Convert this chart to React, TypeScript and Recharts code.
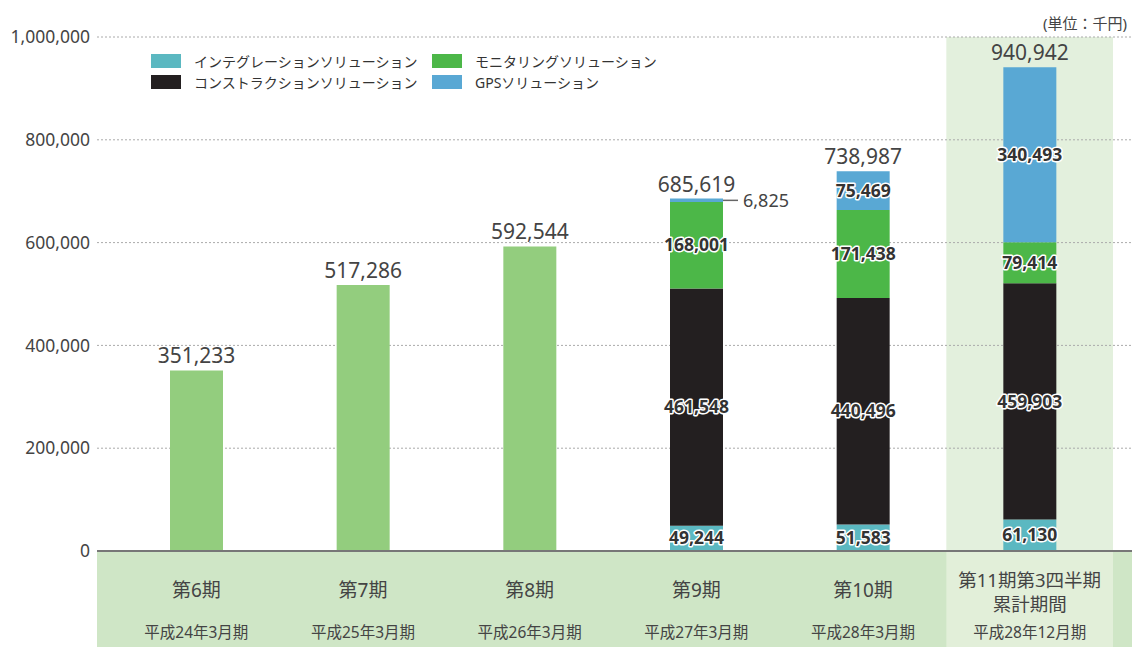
import React from 'react';
import { BarChart, Bar, XAxis, YAxis, CartesianGrid, ReferenceArea, LabelList, Legend } from 'recharts';

// 期ごとの売上高（単位：千円）
const periods = ['第6期', '第7期', '第8期', '第9期', '第10期', '第11期第3四半期\n累計期間'];
const fiscalLabels = ['平成24年3月期', '平成25年3月期', '平成26年3月期', '平成27年3月期', '平成28年3月期', '平成28年12月期'];
const totalOnly = [351233, 517286, 592544, null, null, null];
const integration = [null, null, null, 49244, 51583, 61130];
const construction = [null, null, null, 461548, 440496, 459903];
const monitoring = [null, null, null, 168001, 171438, 79414];
const gps = [null, null, null, 6825, 75469, 340493];
const totalLabels = [351233, 517286, 592544, 685619, 738987, 940942];
const yTicks = [0, 200000, 400000, 600000, 800000, 1000000];

const CHART_W = 1132;
const CHART_H = 647;
const Y_W = 97;
const PAD_L = 16;
const PAD_R = 19;
const BAND = (CHART_W - Y_W - PAD_L - PAD_R) / periods.length;

const FONT = '"Noto Sans", "Noto Sans CJK JP", sans-serif';

const legendItems = [
  { name: 'インテグレーションソリューション', color: '#5bb8c1' },
  { name: 'コンストラクションソリューション', color: '#231f20' },
  { name: 'モニタリングソリューション', color: '#4cb748' },
  { name: 'GPSソリューション', color: '#59a8d4' },
];

const rows = periods.map((p, i) => ({
  period: p,
  total: totalOnly[i],
  integration: integration[i],
  construction: construction[i],
  monitoring: monitoring[i],
  gps: gps[i],
  totalLabel: totalLabels[i],
}));

const fmt = (v: number) => v.toLocaleString('en-US');

const innerLabel = (props: any) => {
  const { viewBox, value } = props;
  if (value == null || !viewBox) return null;
  const { x, y, width, height } = viewBox;
  const top = Math.min(y, y + height);
  const h = Math.abs(height);
  const cy = top + h / 2;
  if (h < 18) {
    // 細いセグメントは引き出し線で外側に
    return (
      <g>
        <line x1={x + width} x2={x + width + 15} y1={cy} y2={cy} stroke="#666" strokeWidth={1.5} />
        <text x={x + width + 20} y={cy} dy="0.35em" fontSize={18} fill="#444" fontFamily={FONT}>
          {fmt(Number(value))}
        </text>
      </g>
    );
  }
  return (
    <text
      x={x + width / 2}
      y={cy}
      dy="0.35em"
      textAnchor="middle"
      fontSize={17.5}
      fontWeight={700}
      fill="#333"
      stroke="#fff"
      strokeWidth={3}
      strokeLinejoin="round"
      paintOrder="stroke"
      fontFamily={FONT}
    >
      {fmt(Number(value))}
    </text>
  );
};

const totalLabel = (props: any) => {
  const { viewBox, value } = props;
  if (value == null || !viewBox) return null;
  const { x, y, width, height } = viewBox;
  const top = Math.min(y, y + height);
  return (
    <text x={x + width / 2} y={top - 7} textAnchor="middle" fontSize={21} fill="#444" fontFamily={FONT}>
      {fmt(Number(value))}
    </text>
  );
};

const XTick = (props: any) => {
  const { x, y, index, payload } = props;
  const last = index === periods.length - 1;
  const left = x - BAND / 2 - (index === 0 ? PAD_L : 0);
  const right = x + BAND / 2 + (last ? PAD_R : 0) + 1;
  const lines = String(payload.value).split('\n');
  const firstY = lines.length > 1 ? 36 : 46;
  return (
    <g>
      <rect x={left} y={y + 1} width={right - left} height={CHART_H} fill="#cfe6c6" />
      {last && <rect x={x - BAND / 2} y={y + 1} width={BAND} height={CHART_H} fill="#e2efd9" />}
      {lines.map((l, k) => (
        <text key={k} x={x} y={y + firstY + k * 24} textAnchor="middle" fontSize={lines.length > 1 ? 18.5 : 19} fill="#444" fontFamily={FONT}>
          {l}
        </text>
      ))}
      <text x={x} y={y + 87} textAnchor="middle" fontSize={15.5} fill="#444" fontFamily={FONT}>
        {fiscalLabels[index]}
      </text>
    </g>
  );
};

const renderLegend = () => (
  <div style={{ display: 'grid', gridTemplateColumns: '281px 300px', rowGap: 7, fontFamily: FONT }}>
    {[legendItems[0], legendItems[2], legendItems[1], legendItems[3]].map((it) => (
      <div key={it.name} style={{ display: 'flex', alignItems: 'center', height: 14 }}>
        <span style={{ width: 30, height: 14, background: it.color, marginRight: 13, display: 'inline-block' }} />
        <span style={{ fontSize: 14, color: '#333', whiteSpace: 'nowrap' }}>{it.name}</span>
      </div>
    ))}
  </div>
);

export default function App() {
  return (
    <div style={{ position: 'absolute', left: 0, top: 0, width: CHART_W, height: CHART_H, background: '#fff', fontFamily: FONT }}>
      <div style={{ position: 'absolute', right: 5, top: 12, fontSize: 15, color: '#444' }}>(単位：千円)</div>
      <BarChart width={CHART_W} height={CHART_H} data={rows} margin={{ top: 37, right: 0, bottom: 0, left: 0 }} barSize={53}>
        <ReferenceArea
          x1={periods[periods.length - 1]}
          x2={periods[periods.length - 1]}
          y1={0}
          y2={1000000}
          fill="#e3f0dd"
          fillOpacity={1}
          stroke="none"
          zIndex={-150}
        />
        <CartesianGrid vertical={false} stroke="#aaa" strokeDasharray="2 2" />
        <XAxis
          dataKey="period"
          height={96}
          interval={0}
          tickLine={false}
          tickSize={0}
          tickMargin={0}
          axisLine={{ stroke: '#777', strokeWidth: 2 }}
          padding={{ left: PAD_L, right: PAD_R }}
          tick={<XTick />}
        />
        <YAxis
          width={Y_W}
          domain={[0, 1000000]}
          ticks={yTicks}
          tickFormatter={fmt}
          axisLine={false}
          tickLine={false}
          tickSize={0}
          tickMargin={7}
          tick={{ fontSize: 17.5, fill: '#444', fontFamily: FONT }}
        />
        <Legend
          layout="horizontal"
          verticalAlign="middle"
          align="center"
          content={renderLegend}
          wrapperStyle={{ top: 54, left: 151, width: 620 }}
        />
        <Bar dataKey="total" stackId="s" fill="#93cd7e" isAnimationActive={false}>
          <LabelList dataKey="totalLabel" content={totalLabel} />
        </Bar>
        <Bar dataKey="integration" stackId="s" fill="#5bb8c1" isAnimationActive={false}>
          <LabelList dataKey="integration" content={innerLabel} />
        </Bar>
        <Bar dataKey="construction" stackId="s" fill="#231f20" isAnimationActive={false}>
          <LabelList dataKey="construction" content={innerLabel} />
        </Bar>
        <Bar dataKey="monitoring" stackId="s" fill="#4cb748" isAnimationActive={false}>
          <LabelList dataKey="monitoring" content={innerLabel} />
        </Bar>
        <Bar dataKey="gps" stackId="s" fill="#59a8d4" isAnimationActive={false}>
          <LabelList dataKey="gps" content={innerLabel} />
          <LabelList dataKey="totalLabel" content={totalLabel} />
        </Bar>
      </BarChart>
    </div>
  );
}
